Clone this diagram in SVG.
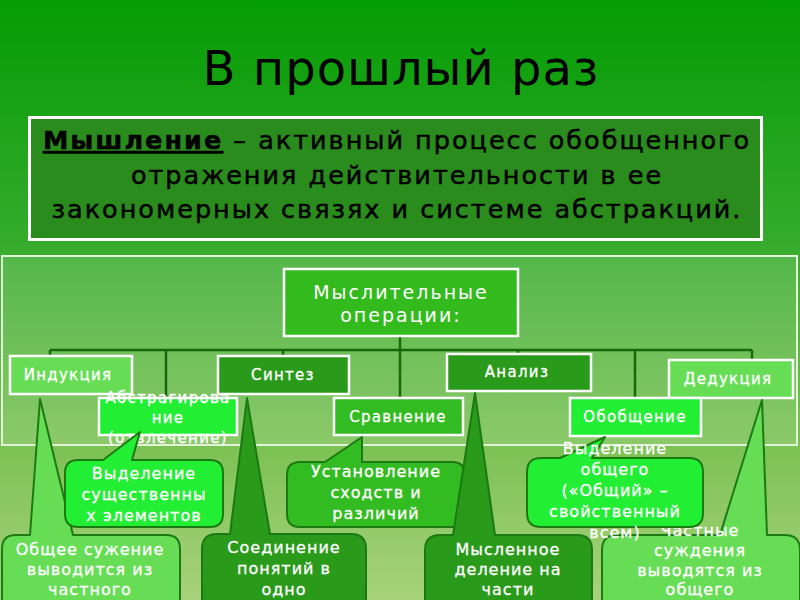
<svg xmlns="http://www.w3.org/2000/svg" width="800" height="600" viewBox="0 0 800 600">
<defs>
<linearGradient id="bg" x1="0" y1="0" x2="0" y2="1">
<stop offset="0" stop-color="#049c04"/>
<stop offset="0.4" stop-color="#35ab2c"/>
<stop offset="0.75" stop-color="#7dc255"/>
<stop offset="1" stop-color="#a8d27a"/>
</linearGradient>
<style>
text{font-family:"DejaVu Sans","Liberation Sans",sans-serif;}
.bx{stroke:#ffffff;stroke-width:2.5;}
.bt{fill:#ffffff;stroke:#ffffff;stroke-width:0.3;font-size:15px;letter-spacing:1.3px;text-anchor:middle;}
.ct{fill:#ffffff;stroke:#ffffff;stroke-width:0.3;font-size:16px;letter-spacing:1px;text-anchor:middle;}
.dt{fill:#000000;stroke:#000000;stroke-width:0.5;font-size:25.5px;letter-spacing:2px;text-anchor:middle;}
.co{stroke:#1b7a12;stroke-width:2;stroke-linejoin:round;}
.light{fill:#66dd55;}
.bright{fill:#22ee33;}
.mid{fill:#33bb22;}
.dark{fill:#2a9a1a;}
.ln{stroke:#15680c;stroke-width:2.5;fill:none;}
</style>
</defs>
<rect width="800" height="600" fill="url(#bg)"/>
<text x="401" y="85" font-size="48" letter-spacing="1" text-anchor="middle" fill="#000">В прошлый раз</text>
<g id="definition">
<rect x="29.5" y="117.5" width="732" height="122" fill="#2a8c1c" stroke="#ffffff" stroke-width="3"/>
<text class="dt" x="397" y="149"><tspan font-weight="bold" text-decoration="underline">Мышление</tspan> – активный процесс обобщенного</text>
<text class="dt" x="397" y="184">отражения действительности в ее</text>
<text class="dt" x="397" y="218">закономерных связях и системе абстракций.</text>
</g>
<rect id="panel" x="2" y="256" width="795" height="189" fill="#ffffff" fill-opacity="0.13" stroke="#e2f2d6" stroke-width="2"/>
<g id="connectors">
<line class="ln" x1="50" y1="350" x2="752" y2="350"/>
<line class="ln" x1="50" y1="350" x2="50" y2="356"/>
<line class="ln" x1="166" y1="350" x2="166" y2="398"/>
<line class="ln" x1="283" y1="350" x2="283" y2="356"/>
<line class="ln" x1="400" y1="336" x2="400" y2="398"/>
<line class="ln" x1="518" y1="350" x2="518" y2="354"/>
<line class="ln" x1="635" y1="350" x2="635" y2="398"/>
<line class="ln" x1="752" y1="350" x2="752" y2="360"/>
</g>
<g id="operations">
<rect class="bx" x="284" y="269" width="234" height="67" fill="#33bb1e"/>
<text x="401" y="299" font-size="19" letter-spacing="2" text-anchor="middle" fill="#fff">Мыслительные</text>
<text x="401" y="322" font-size="19" letter-spacing="2" text-anchor="middle" fill="#fff">операции:</text>
</g>
<g id="induction">
<rect class="bx light" x="10" y="356" width="122" height="38"/>
<text class="bt" x="68" y="380">Индукция</text>
</g>
<g id="synthesis">
<rect class="bx dark" x="218" y="356" width="131" height="38"/>
<text class="bt" x="283" y="380">Синтез</text>
</g>
<g id="analysis">
<rect class="bx dark" x="447" y="354" width="144" height="37"/>
<text class="bt" x="517" y="377">Анализ</text>
</g>
<g id="deduction">
<rect class="bx light" x="669" y="360" width="124" height="38"/>
<text class="bt" x="728" y="384">Дедукция</text>
</g>
<g id="abstraction">
<rect class="bx bright" x="99" y="398" width="138" height="37"/>
<text class="bt" x="168" y="403">Абстрагирова</text>
<text class="bt" x="168" y="423">ние</text>
<text class="bt" x="168" y="443">(отвлечение)</text>
</g>
<g id="comparison">
<rect class="bx mid" x="334" y="398" width="129" height="37"/>
<text class="bt" x="398" y="422">Сравнение</text>
</g>
<g id="generalization">
<rect class="bx bright" x="570" y="398" width="131" height="38"/>
<text class="bt" x="635" y="422">Обобщение</text>
</g>
<g id="callout-induction">
<path class="co light" d="M16,535 L30,535 L40,399 L73,535 L166,535 Q180,535 180,549 L180,620 L2,620 L2,549 Q2,535 16,535 Z"/>
<text class="ct" x="90" y="555">Общее сужение</text>
<text class="ct" x="90" y="575">выводится из</text>
<text class="ct" x="90" y="595">частного</text>
</g>
<g id="callout-abstraction">
<path class="co bright" d="M78,460 L103,460 L140,432 L132,460 L210,460 Q223,460 223,473 L223,514 Q223,527 210,527 L78,527 Q65,527 65,514 L65,473 Q65,460 78,460 Z"/>
<text class="ct" x="144" y="479">Выделение</text>
<text class="ct" x="144" y="500">существенны</text>
<text class="ct" x="144" y="521">х элементов</text>
</g>
<g id="callout-synthesis">
<path class="co dark" d="M217,534 L230,534 L247,398 L270,534 L351,534 Q366,534 366,549 L366,620 L202,620 L202,549 Q202,534 217,534 Z"/>
<text class="ct" x="284" y="553">Соединение</text>
<text class="ct" x="284" y="574">понятий в</text>
<text class="ct" x="284" y="595">одно</text>
</g>
<g id="callout-comparison">
<path class="co mid" d="M300,462 L325,462 L362,437 L362,462 L452,462 Q465,462 465,475 L465,514 Q465,527 452,527 L300,527 Q287,527 287,514 L287,475 Q287,462 300,462 Z"/>
<text class="ct" x="376" y="477">Установление</text>
<text class="ct" x="376" y="498">сходств и</text>
<text class="ct" x="376" y="519">различий</text>
</g>
<g id="callout-analysis">
<path class="co dark" d="M440,535 L453,535 L475,393 L495,535 L577,535 Q592,535 592,550 L592,620 L425,620 L425,550 Q425,535 440,535 Z"/>
<text class="ct" x="508" y="555">Мысленное</text>
<text class="ct" x="508" y="575">деление на</text>
<text class="ct" x="508" y="595">части</text>
</g>
<g id="callout-deduction">
<path class="co light" d="M617,535 L720,535 L762,400 L767,535 L785,535 Q800,535 800,550 L800,620 L602,620 L602,550 Q602,535 617,535 Z"/>
<text class="ct" x="700" y="536">Частные</text>
<text class="ct" x="700" y="556">суждения</text>
<text class="ct" x="700" y="576">выводятся из</text>
<text class="ct" x="700" y="595">общего</text>
</g>
<g id="callout-generalization">
<path class="co bright" d="M541,458 L560,458 L605,437 L592,458 L689,458 Q703,458 703,472 L703,513 Q703,527 689,527 L541,527 Q527,527 527,513 L527,472 Q527,458 541,458 Z"/>
<text class="ct" x="615" y="454">Выделение</text>
<text class="ct" x="615" y="475">общего</text>
<text class="ct" x="615" y="496">(«Общий» –</text>
<text class="ct" x="615" y="517">свойственный</text>
<text class="ct" x="615" y="538">всем)</text>
</g>
</svg>
